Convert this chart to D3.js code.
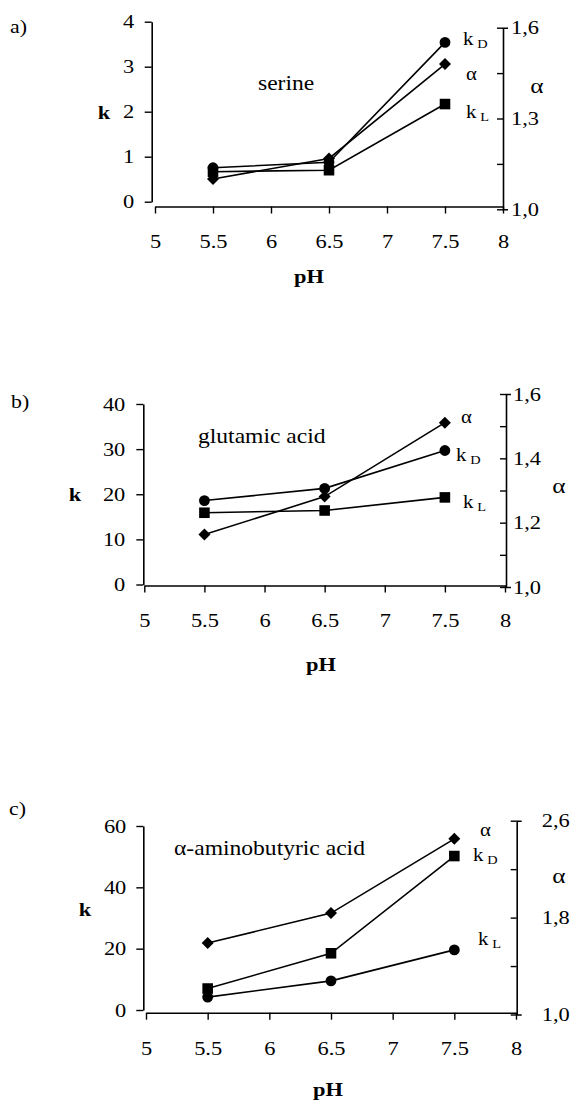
<!DOCTYPE html>
<html><head><meta charset="utf-8">
<script src="https://cdn.jsdelivr.net/npm/d3@7"></script>
<style>
html,body{margin:0;padding:0;background:#fff;}
svg{display:block;}
</style>
</head><body>
<svg id="chart" width="571" height="1101"></svg>
<script>
// ---------- DATA ----------
const pH = [5.5, 6.5, 7.5];
const xTicks = [5, 5.5, 6, 6.5, 7, 7.5, 8];

const serineKD = [0.755, 0.875, 3.54];
const serineKL = [0.667, 0.70, 2.17];
const serineAlpha = [1.100, 1.168, 1.480];

const glutamicKD = [18.6, 21.3, 29.7];
const glutamicKL = [15.9, 16.4, 19.3];
const glutamicAlpha = [1.163, 1.281, 1.511];

const aminobutyricKD = [7.0, 18.5, 50.2];
const aminobutyricKL = [4.2, 9.5, 19.6];
const aminobutyricAlpha = [1.59, 1.837, 2.45];

const kTicksA = [0, 1, 2, 3, 4];
const kTicksB = [0, 10, 20, 30, 40];
const kTicksC = [0, 20, 40, 60];

const alphaTicksA = [1.0, 1.15, 1.3, 1.45, 1.6];
const alphaLabelsA = ["1,0", "", "1,3", "", "1,6"];
const alphaTicksB = [1.0, 1.1, 1.2, 1.3, 1.4, 1.5, 1.6];
const alphaLabelsB = ["1,0", "", "1,2", "", "1,4", "", "1,6"];
const alphaTicksC = [1.0, 1.4, 1.8, 2.2, 2.6];
const alphaLabelsC = ["1,0", "", "1,8", "", "2,6"];

const panelLetters = ["a)", "b)", "c)"];
const compoundNames = ["serine", "glutamic acid", "\u03b1-aminobutyric acid"];

// ---------- FONT ----------
const FONT = '"Liberation Serif", "Times New Roman", "DejaVu Serif", serif';
const SX = 1.15; // horizontal stretch of the scanned lettering

// ---------- LAYOUT ----------
const panels = [
  {
    letter: panelLetters[0], name: compoundNames[0],
    kD: serineKD, kL: serineKL, alpha: serineAlpha,
    kTicks: kTicksA, aTicks: alphaTicksA, aLabels: alphaLabelsA,
    kDomain: [0, 4], aDomain: [1, 1.6],
    kDSym: "circle", kLSym: "square",
    xr: [155, 503], kr: [201.7, 21.7], ar: [209.3, 27.7],
    xAxisY: 206.5, leftX: 151.7, rightX: 503, leftPad: 10.5, rightPad: 8,
    letterPos: [10, 33], namePos: [258, 90],
    kPos: [104, 119], pHPos: [309, 283], alphaAxisPos: [537, 93],
    kDPos: [463, 45], kLPos: [466, 118], aPos: [466, 80]
  },
  {
    letter: panelLetters[1], name: compoundNames[1],
    kD: glutamicKD, kL: glutamicKL, alpha: glutamicAlpha,
    kTicks: kTicksB, aTicks: alphaTicksB, aLabels: alphaLabelsB,
    kDomain: [0, 40], aDomain: [1, 1.6],
    kDSym: "circle", kLSym: "square",
    xr: [144.3, 505], kr: [584.5, 404], ar: [587, 394],
    xAxisY: 585.5, leftX: 143.3, rightX: 506, leftPad: 11, rightPad: 7,
    letterPos: [11, 408], namePos: [198, 443],
    kPos: [75, 501], pHPos: [321, 671], alphaAxisPos: [559, 493],
    kDPos: [456, 461], kLPos: [463, 508], aPos: [461, 423]
  },
  {
    letter: panelLetters[2], name: compoundNames[2],
    kD: aminobutyricKD, kL: aminobutyricKL, alpha: aminobutyricAlpha,
    kTicks: kTicksC, aTicks: alphaTicksC, aLabels: alphaLabelsC,
    kDomain: [0, 60], aDomain: [1, 2.6],
    kDSym: "square", kLSym: "circle",
    xr: [146, 516], kr: [1010, 826], ar: [1014.5, 820.7],
    xAxisY: 1012.7, leftX: 143.3, rightX: 516.7, leftPad: 10, rightPad: 25,
    letterPos: [9, 815], namePos: [174, 855],
    kPos: [85, 916], pHPos: [328, 1096], alphaAxisPos: [559, 883],
    kDPos: [473, 861], kLPos: [478, 945], aPos: [480, 836]
  }
];

const svg = d3.select("#chart").attr("font-family", FONT);

function stretch(sel) {
  sel.each(function () {
    const x = +(this.getAttribute("x") || 0);
    this.setAttribute("x", x / SX);
    const old = this.getAttribute("transform") || "";
    this.setAttribute("transform", `scale(${SX},1) ${old}`);
  });
}

function symbolPath(type) {
  if (type === "circle") return d3.symbol().type(d3.symbolCircle).size(92)();
  if (type === "square") return d3.symbol().type(d3.symbolSquare).size(112)();
  return d3.symbol().type(d3.symbolSquare).size(72)(); // rotated -> diamond
}

function styleAxis(g, fs) {
  g.attr("font-family", FONT).attr("font-size", fs);
  g.select(".domain").attr("stroke", "#000").attr("stroke-width", 1.6);
  g.selectAll(".tick line").attr("stroke", "#000").attr("stroke-width", 1.4);
  g.selectAll(".tick text").attr("fill", "#000");
}

function addText(g, pos, txt, size, opts = {}) {
  const t = g.append("text").attr("x", pos[0]).attr("y", pos[1])
    .attr("font-family", FONT).attr("font-size", size).attr("fill", "#000")
    .attr("text-anchor", opts.anchor || "start")
    .attr("font-weight", opts.bold ? "bold" : "normal").text(txt);
  return t;
}

function seriesLabel(g, pos, main, sub) {
  const t = addText(g, pos, main, 18);
  if (sub) t.append("tspan").attr("dx", 3.5).attr("dy", 3).attr("font-size", 12.5).text(sub);
  stretch(t);
}

panels.forEach(p => {
  const g = svg.append("g");
  const x = d3.scaleLinear().domain([5, 8]).range(p.xr);
  const yk = d3.scaleLinear().domain(p.kDomain).range(p.kr);
  const ya = d3.scaleLinear().domain(p.aDomain).range(p.ar);

  const gl = g.append("g").attr("transform", `translate(${p.leftX},0)`)
    .call(d3.axisLeft(yk).tickValues(p.kTicks).tickSize(7).tickSizeOuter(0)
      .tickPadding(p.leftPad).tickFormat(d3.format("d")));
  styleAxis(gl, 19.5);
  stretch(gl.selectAll(".tick text"));

  const gb = g.append("g").attr("transform", `translate(0,${p.xAxisY})`)
    .call(d3.axisBottom(x).tickValues(xTicks).tickSize(7).tickSizeOuter(0)
      .tickFormat(d => String(d)));
  styleAxis(gb, 19.5);
  gb.selectAll(".tick text").attr("y", 42).attr("dy", 0);
  stretch(gb.selectAll(".tick text"));

  const gr = g.append("g").attr("transform", `translate(${p.rightX},0)`)
    .call(d3.axisRight(ya).tickValues(p.aTicks).tickSizeInner(-6).tickSizeOuter(5)
      .tickPadding(p.rightPad).tickFormat((d, i) => p.aLabels[i]));
  styleAxis(gr, 19.5);
  stretch(gr.selectAll(".tick text"));

  const lineK = d3.line().x((d, i) => x(pH[i])).y(d => yk(d));
  const lineA = d3.line().x((d, i) => x(pH[i])).y(d => ya(d));
  [[p.kD, lineK], [p.kL, lineK], [p.alpha, lineA]].forEach(([vals, ln]) => {
    g.append("path").datum(vals).attr("d", ln)
      .attr("fill", "none").attr("stroke", "#000").attr("stroke-width", 1.6);
  });

  const drawMarkers = (vals, scale, type) => {
    g.selectAll(null).data(vals).enter().append("path")
      .attr("d", symbolPath(type))
      .attr("transform", (d, i) => `translate(${x(pH[i])},${scale(d)})` + (type === "diamond" ? " rotate(45)" : ""))
      .attr("fill", "#000");
  };
  drawMarkers(p.alpha, ya, "diamond");
  drawMarkers(p.kL, yk, p.kLSym);
  drawMarkers(p.kD, yk, p.kDSym);

  stretch(addText(g, p.letterPos, p.letter, 19));
  stretch(addText(g, p.namePos, p.name, 20.5));
  stretch(addText(g, p.kPos, "k", 19.5, { anchor: "middle", bold: true }));
  stretch(addText(g, p.pHPos, "pH", 19.5, { anchor: "middle", bold: true }));
  stretch(addText(g, p.alphaAxisPos, "\u03b1", 22, { anchor: "middle" }));

  seriesLabel(g, p.kDPos, "k", "D");
  seriesLabel(g, p.kLPos, "k", "L");
  seriesLabel(g, p.aPos, "\u03b1", null);
});
</script>
</body></html>
